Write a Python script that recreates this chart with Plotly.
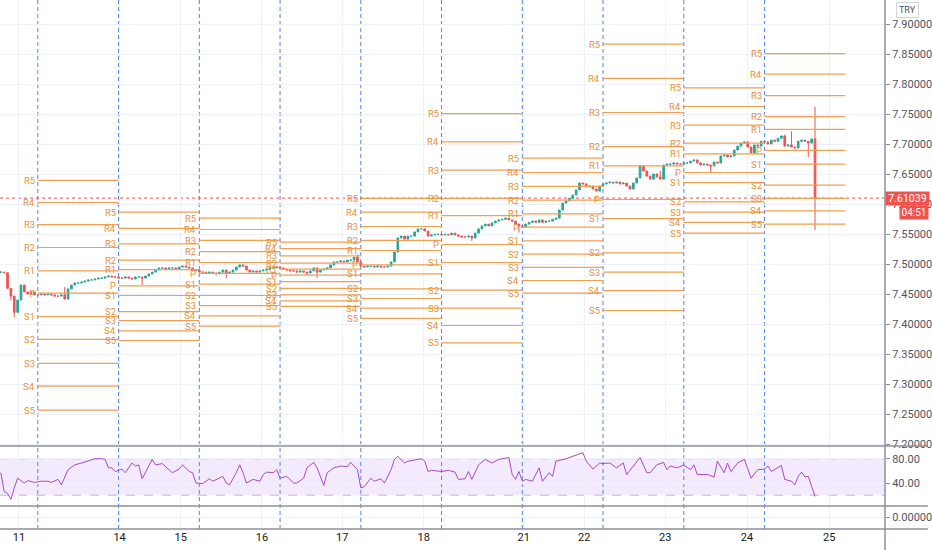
import plotly.graph_objects as go

# ---------------- data ----------------
FIRST_BAR = -11  # hourly bars, index 0 = first session break shown
CLOSE = [
    7.487, 7.486, 7.460, 7.447, 7.420, 7.4405, 7.4655, 7.454, 7.4505, 7.454, 7.449,
    7.449, 7.4505, 7.449, 7.4505, 7.449, 7.447, 7.447, 7.449, 7.442, 7.459, 7.4655, 7.469, 7.469,
    7.4705, 7.472, 7.474, 7.474, 7.4755, 7.477, 7.477, 7.479, 7.4805, 7.479, 7.479, 7.477,
    7.477, 7.479, 7.477, 7.4755, 7.479, 7.479, 7.477, 7.4805, 7.484, 7.487, 7.4905, 7.494,
    7.494, 7.492, 7.494, 7.494, 7.492, 7.4955, 7.497, 7.4955, 7.494, 7.489, 7.4905, 7.487,
    7.487, 7.4855, 7.487, 7.4855, 7.484, 7.487, 7.4905, 7.4855, 7.487, 7.4905, 7.4955, 7.499,
    7.497, 7.4905, 7.487, 7.489, 7.487, 7.489, 7.4905, 7.492, 7.494, 7.494, 7.4955, 7.494,
    7.492, 7.4905, 7.489, 7.489, 7.487, 7.489, 7.487, 7.4855, 7.489, 7.494, 7.487, 7.4905,
    7.492, 7.494, 7.499, 7.504, 7.504, 7.5055, 7.504, 7.507, 7.507, 7.512, 7.504, 7.497,
    7.4955, 7.497, 7.497, 7.4955, 7.497, 7.4955, 7.4955, 7.497, 7.504, 7.5205, 7.544, 7.547,
    7.542, 7.547, 7.547, 7.554, 7.559, 7.559, 7.5555, 7.547, 7.549, 7.550, 7.550, 7.549,
    7.550, 7.549, 7.552, 7.549, 7.547, 7.5455, 7.5455, 7.547, 7.544, 7.552, 7.559, 7.564,
    7.567, 7.564, 7.569, 7.572, 7.574, 7.575, 7.577, 7.574, 7.572, 7.567, 7.564, 7.562,
    7.567, 7.570, 7.572, 7.570, 7.574, 7.570, 7.572, 7.572, 7.575, 7.577, 7.5905, 7.602,
    7.6055, 7.610, 7.6155, 7.624, 7.6355, 7.634, 7.629, 7.6305, 7.6255, 7.622, 7.6305, 7.634,
    7.6355, 7.637, 7.6355, 7.637, 7.634, 7.6355, 7.6305, 7.6255, 7.6355, 7.644, 7.664, 7.6555,
    7.647, 7.642, 7.6505, 7.6455, 7.642, 7.6655, 7.667, 7.667, 7.669, 7.667, 7.667, 7.669,
    7.669, 7.672, 7.674, 7.669, 7.6655, 7.667, 7.6655, 7.664, 7.6705, 7.669, 7.6805, 7.682,
    7.679, 7.6805, 7.6905, 7.697, 7.702, 7.704, 7.6955, 7.6855, 7.699, 7.697, 7.705, 7.704,
    7.7005, 7.707, 7.705, 7.710, 7.714, 7.697, 7.699, 7.6955, 7.694, 7.705, 7.707, 7.705,
    7.702, 7.709, 7.61039,
]
HIGH_WICK = {8: 7.462, 95: 7.5165, 179: 7.666, 185: 7.656, 222: 7.716, 224: 7.7215, 231: 7.7627}
LOW_WICK = {-8: 7.440, -7: 7.412, 31: 7.4655, 56: 7.477, 80: 7.482, 83: 7.477,
            129: 7.539, 143: 7.553, 200: 7.654, 229: 7.679, 231: 7.5572}

RSI_IDX = [-11, -10, -9, -8, -7, -6, -4, -3, -1, 1, 3, 4, 6, 7, 9, 11, 13, 15, 17, 19,
           20, 21, 22, 23, 25, 26, 28, 29, 30, 31, 33, 34, 35, 37, 39, 40, 42, 43, 45, 46,
           47, 49, 51, 52, 55, 56, 57, 59, 60, 61, 62, 64, 66, 67, 68, 70, 71, 72, 74, 76,
           77, 79, 80, 82, 83, 85, 86, 88, 90, 92, 93, 95, 96, 97, 99, 100, 102, 103, 105, 106,
           107, 109, 110, 112, 114, 115, 116, 117, 120, 122, 124, 125, 127, 128, 129, 131, 133, 135, 137, 140,
           141, 142, 143, 144, 145, 147, 149, 150, 152, 153, 154, 157, 159, 162, 163, 165, 167, 168, 170, 172,
           174, 175, 177, 179, 181, 182, 184, 186, 187, 188, 190, 192, 194, 195, 196, 199, 201, 202, 204, 205,
           206, 208, 210, 212, 214, 216, 217, 218, 221, 222, 224, 225, 226, 227, 228, 229, 231]
RSI_VAL = [57, 26, 23, 13, 32, 48, 40, 44, 41, 43, 43, 41, 46, 37, 62, 70, 73, 76, 80, 80,
           79, 65, 65, 59, 63, 57, 73, 68, 70, 47, 70, 79, 70, 72, 62, 57, 63, 70, 59, 57,
           40, 39, 47, 43, 51, 40, 37, 57, 70, 57, 40, 46, 43, 54, 58, 57, 62, 48, 51, 40,
           40, 48, 65, 74, 65, 36, 57, 65, 68, 67, 74, 62, 32, 34, 48, 43, 47, 40, 62, 79,
           84, 73, 76, 78, 80, 76, 59, 61, 59, 61, 58, 46, 47, 59, 46, 70, 79, 73, 79, 82,
           54, 46, 59, 43, 46, 43, 65, 43, 57, 51, 76, 80, 84, 90, 76, 63, 73, 72, 73, 65,
           73, 54, 68, 82, 57, 57, 70, 74, 62, 68, 65, 70, 62, 70, 54, 54, 50, 76, 57, 73,
           59, 73, 79, 48, 62, 63, 68, 59, 69, 46, 43, 37, 51, 58, 50, 51, 18]
RSI_BAND = [20, 80]
RSI_TICKS = [40, 80]
RSI_TICKTEXT = ["40.00", "80.00"]

SESSION_START = [0, 24, 48, 72, 96, 120, 144, 168, 192, 216]
SESSION_LEN = 24
PIVOT_NAMES = ["R5", "R4", "R3", "R2", "R1", "P", "S1", "S2", "S3", "S4", "S5"]
R5 = [7.640, 7.587, 7.577, 7.537, 7.610, 7.751, 7.677, 7.867, 7.794, 7.851]
R4 = [7.603, 7.560, 7.558, 7.526, 7.587, 7.704, 7.653, 7.810, 7.763, 7.817]
R3 = [7.566, 7.534, 7.540, 7.514, 7.563, 7.657, 7.630, 7.753, 7.732, 7.781]
R2 = [7.528, 7.507, 7.521, 7.502, 7.540, 7.610, 7.607, 7.696, 7.702, 7.746]
R1 = [7.489, 7.491, 7.503, 7.492, 7.523, 7.581, 7.584, 7.664, 7.684, 7.725]
P = [7.452, 7.464, 7.485, 7.482, 7.499, 7.533, 7.562, 7.608, 7.653, 7.690]
S1 = [7.413, 7.448, 7.467, 7.471, 7.484, 7.503, 7.539, 7.576, 7.636, 7.667]
S2 = [7.375, 7.421, 7.448, 7.460, 7.459, 7.457, 7.517, 7.519, 7.604, 7.632]
S3 = [7.335, 7.406, 7.431, 7.449, 7.443, 7.427, 7.495, 7.487, 7.587, 7.610]
S4 = [7.297, 7.389, 7.414, 7.439, 7.427, 7.398, 7.473, 7.456, 7.570, 7.589]
S5 = [7.257, 7.373, 7.397, 7.430, 7.410, 7.369, 7.452, 7.423, 7.552, 7.567]
PIVOT_LEVELS = [R5, R4, R3, R2, R1, P, S1, S2, S3, S4, S5]

DAY_POS = [-5.6, 24.3, 42.5, 66.6, 90.5, 114.7, 144.4, 162.4, 186.5, 210.8, 235.2]
DAY_LABELS = ["11", "14", "15", "16", "17", "18", "21", "22", "23", "24", "25"]

LAST_PRICE = 7.61039
COUNTDOWN = "04:51"
CURRENCY = "TRY"
PRICE_TICK_START, PRICE_TICK_STEP = 7.20, 0.05

# ---------------- styling / layout ----------------
W, H = 932, 550
ML, MR, MT, MB = 0, 43, 0, 21
PW, PH = W - ML - MR, H - MT - MB
MAIN_BOTTOM_PX, RSI_BOTTOM_PX = 446, 506


def py(px):  # pixel row -> paper y
    return (PH - px) / PH


GREEN, RED = "#26a69a", "#ef5350"
PIV_LINE, PIV_TEXT = "#f0a050", "#e8913a"
SEP = "#8d9099"
FONT = "Roboto"

fig = go.Figure()

bars = list(range(FIRST_BAR, FIRST_BAR + len(CLOSE)))
opens = [CLOSE[0]] + CLOSE[:-1]
highs = [HIGH_WICK.get(i, max(o, c)) for i, o, c in zip(bars, opens, CLOSE)]
lows = [LOW_WICK.get(i, min(o, c)) for i, o, c in zip(bars, opens, CLOSE)]

# pivot segments
px_, py_ = [], []
for lv in PIVOT_LEVELS:
    for s, v in zip(SESSION_START, lv):
        px_ += [s, s + SESSION_LEN, None]
        py_ += [v, v, None]
fig.add_trace(go.Scatter(x=px_, y=py_, mode="lines", line=dict(color=PIV_LINE, width=1.2),
                         hoverinfo="skip", showlegend=False, xaxis="x", yaxis="y"))

fig.add_trace(go.Candlestick(
    x=bars, open=opens, high=highs, low=lows, close=CLOSE,
    increasing=dict(line=dict(color=GREEN, width=1), fillcolor=GREEN),
    decreasing=dict(line=dict(color=RED, width=1), fillcolor=RED),
    showlegend=False, xaxis="x", yaxis="y"))

fig.add_trace(go.Scatter(x=RSI_IDX, y=RSI_VAL, mode="lines",
                         line=dict(color="#a849c8", width=1), showlegend=False,
                         hoverinfo="skip", xaxis="x", yaxis="y2"))
fig.add_trace(go.Scatter(x=[bars[0]], y=[0], mode="markers", marker=dict(opacity=0),
                         showlegend=False, hoverinfo="skip", xaxis="x", yaxis="y3"))

shapes = []
# RSI band
shapes.append(dict(type="rect", xref="paper", x0=0, x1=1, yref="y2", y0=RSI_BAND[0], y1=RSI_BAND[1],
                   fillcolor="rgba(149,76,233,0.11)", line=dict(width=0), layer="below"))
for b in RSI_BAND:
    shapes.append(dict(type="line", xref="paper", x0=0, x1=1, yref="y2", y0=b, y1=b,
                       line=dict(color="#c8b4d8", width=1, dash="dash"), layer="below"))
# session breaks
for s in SESSION_START:
    shapes.append(dict(type="line", xref="x", x0=s, x1=s, yref="paper", y0=0, y1=1,
                       line=dict(color="#4f86ec", width=1, dash="4px,3px"), layer="below"))
# last price dotted line
shapes.append(dict(type="line", xref="paper", x0=0, x1=1, yref="y", y0=LAST_PRICE, y1=LAST_PRICE,
                   line=dict(color=RED, width=1, dash="dot"), layer="below"))
# pane separators
for pxrow in (MAIN_BOTTOM_PX, RSI_BOTTOM_PX, PH):
    shapes.append(dict(type="line", xref="paper", x0=0, x1=W / PW, yref="paper",
                       y0=py(pxrow), y1=py(pxrow), line=dict(color=SEP, width=1.5)))
# right axis line
shapes.append(dict(type="line", xref="paper", x0=1, x1=1, yref="paper", y0=-MB / PH, y1=1,
                   line=dict(color=SEP, width=1.5)))

annotations = []
for name, lv in zip(PIVOT_NAMES, PIVOT_LEVELS):
    for s, v in zip(SESSION_START, lv):
        annotations.append(dict(x=s, y=v, xref="x", yref="y", text=name, showarrow=False,
                                xanchor="right", yanchor="middle", xshift=-1,
                                font=dict(family=FONT, size=9.5, color=PIV_TEXT)))
# price label
annotations.append(dict(xref="paper", x=1, xanchor="left", yref="y", y=LAST_PRICE, yanchor="middle",
                        text=f"{LAST_PRICE:.5f}", showarrow=False, bgcolor=RED, width=41, height=11,
                        borderpad=1, align="center", font=dict(family=FONT, size=10.5, color="white")))
annotations.append(dict(xref="paper", x=903 / PW, xanchor="left", yref="paper", y=py(212),
                        yanchor="middle", text=COUNTDOWN, showarrow=False, bgcolor=RED,
                        width=26, height=11, borderpad=1, align="center",
                        font=dict(family=FONT, size=10, color="white")))
annotations.append(dict(xref="paper", x=912 / PW, xanchor="center", yref="paper", y=py(10),
                        yanchor="middle", text=CURRENCY, showarrow=False, bgcolor="white",
                        bordercolor="#d1d4dc", borderwidth=1, borderpad=2,
                        font=dict(family=FONT, size=9, color="#50535e")))

n_ticks = 15
price_ticks = [round(PRICE_TICK_START + k * PRICE_TICK_STEP, 2) for k in range(n_ticks)]

fig.update_layout(
    width=W, height=H, margin=dict(l=ML, r=MR, t=MT, b=MB),
    paper_bgcolor="white", plot_bgcolor="white", showlegend=False,
    font=dict(family=FONT, size=11, color="#131722"),
    xaxis=dict(domain=[0, 1], range=[-11.24, 251.8], anchor="y3", tickvals=DAY_POS,
               ticktext=DAY_LABELS, showgrid=True, gridcolor="#eef1f7", zeroline=False,
               showline=False, ticks="", rangeslider=dict(visible=False),
               tickfont=dict(size=11, color="#131722", family=FONT)),
    yaxis=dict(domain=[py(MAIN_BOTTOM_PX), 1], range=[7.1972, 7.9405], side="right", anchor="x",
               tickvals=price_ticks, tickformat=".5f", showgrid=True, gridcolor="#eef1f7",
               zeroline=False, ticks="outside", ticklen=4, tickcolor=SEP,
               tickfont=dict(size=11, color="#50535e", family=FONT)),
    yaxis2=dict(domain=[py(RSI_BOTTOM_PX), py(MAIN_BOTTOM_PX)], range=[2.2, 101], side="right",
                anchor="x", tickvals=RSI_TICKS, ticktext=RSI_TICKTEXT, showgrid=True,
                gridcolor="#eef1f7", zeroline=False, ticks="outside", ticklen=4, tickcolor=SEP,
                tickfont=dict(size=11, color="#50535e", family=FONT)),
    yaxis3=dict(domain=[0, py(RSI_BOTTOM_PX)], range=[-1, 1], side="right", anchor="x",
                tickvals=[0], ticktext=["0.00000"], showgrid=True, gridcolor="#eef1f7",
                zeroline=False, ticks="outside", ticklen=4, tickcolor=SEP,
                tickfont=dict(size=11, color="#50535e", family=FONT)),
    shapes=shapes, annotations=annotations,
)

fig.write_html("out.html", config={"displayModeBar": False},
               post_script="document.body.style.margin='0';document.body.style.overflow='hidden';")
